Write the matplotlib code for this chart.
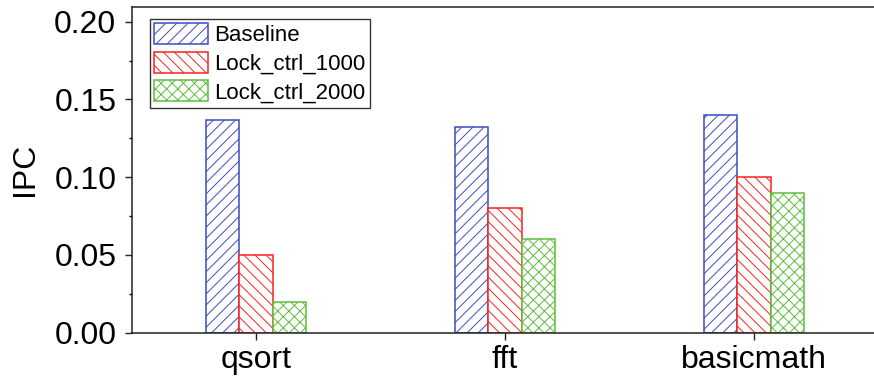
import numpy as np
import matplotlib
matplotlib.use("Agg")
import matplotlib.pyplot as plt
from matplotlib.ticker import MultipleLocator

plt.rcParams['font.family'] = ['Liberation Sans', 'DejaVu Sans']
plt.rcParams['hatch.linewidth'] = 0.7

# data
benchmarks = ['qsort', 'fft', 'basicmath']
baseline = [0.137, 0.132, 0.140]
lock_1000 = [0.050, 0.080, 0.100]
lock_2000 = [0.020, 0.060, 0.090]

series = [
    ('Baseline', baseline, '#3b4cc0', '///'),
    ('Lock_ctrl_1000', lock_1000, '#ff2020', '\\\\\\'),
    ('Lock_ctrl_2000', lock_2000, '#5cbf3c', 'xxx'),
]

fig = plt.figure(figsize=(8.74, 3.81), dpi=100)
ax = fig.add_axes([0.1505, 0.1268, 0.87, 0.855])

x = np.arange(len(benchmarks))
w = 0.133
for i, (name, vals, col, hatch) in enumerate(series):
    ax.bar(x + (i - 1) * w, vals, w, facecolor='white', edgecolor=col,
           hatch=hatch, linewidth=1.1, label=name)

# 249 px per group, right spine falls outside the picture
ax.set_xlim(-0.5, -0.5 + 0.87 * 874 / 249)
ax.set_ylim(0, 0.2095)
ax.set_xticks(x)
ax.set_xticklabels(benchmarks)
ax.yaxis.set_major_locator(MultipleLocator(0.05))
ax.yaxis.set_minor_locator(MultipleLocator(0.025))
ax.yaxis.set_major_formatter(matplotlib.ticker.FormatStrFormatter('%.2f'))
ax.set_ylabel('IPC', fontsize=23, labelpad=10)

ax.tick_params(axis='both', which='major', direction='out', length=5,
               width=1, labelsize=23, color='#222222', pad=4)
ax.tick_params(axis='y', which='major', pad=6)
ax.tick_params(axis='y', which='minor', direction='out', length=2.5, width=1)
ax.tick_params(axis='x', which='minor', bottom=False)
for s in ax.spines.values():
    s.set_linewidth(1.1)
    s.set_color('#222222')
ax.spines['right'].set_visible(False)

leg = ax.legend(loc='upper left', bbox_to_anchor=(0.1716, 0.950),
                bbox_transform=fig.transFigure, fontsize=16, frameon=True,
                fancybox=False, edgecolor='black', borderaxespad=0,
                handlelength=2.4, handleheight=1.05, handletextpad=0.3,
                labelspacing=0.25, borderpad=0.2)
leg.get_frame().set_linewidth(1.0)

fig.savefig('out.png', dpi=100)
